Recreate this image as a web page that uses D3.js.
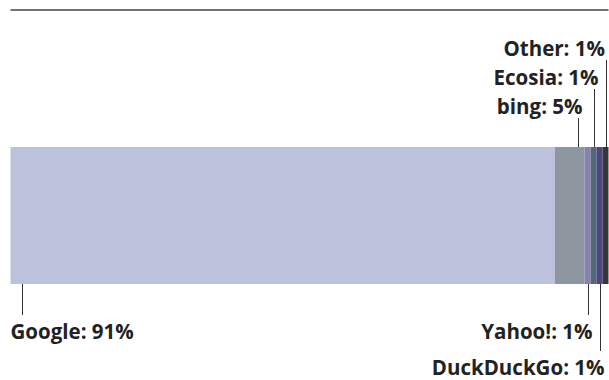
<!DOCTYPE html>
<html>
<head>
<meta charset="utf-8">
<script src="https://cdn.jsdelivr.net/npm/d3@7/dist/d3.min.js"></script>
<style>
  html, body { margin: 0; padding: 0; background: #fff; }
  svg { display: block; }
  text { font-family: "Open Sans", sans-serif; font-weight: 700; fill: #222; }
</style>
</head>
<body>
<svg id="chart" width="609" height="380"></svg>
<script>
// ---- data ----
const categories = ["Google", "bing", "Yahoo!", "Ecosia", "DuckDuckGo", "Other"];
const shares = [91, 5, 1, 1, 1, 1];
const labelSide = ["below", "above", "below", "above", "below", "above"];
const labelLevel = [0, 0, 0, 1, 1, 2];
const colors = ["#bcc1dc", "#8e979f", "#8980b0", "#516a77", "#4d4680", "#363638"];

// ---- layout ----
const W = 609, H = 380;
const left = 10.5, right = 608.5;
const barTop = 147, barBottom = 284;
const aboveBaselines = [114, 85, 56];
const belowBaselines = [339, 375];

const svg = d3.select("#chart");

const x = d3.scaleLinear().domain([0, d3.sum(shares)]).range([left, right]);

let acc = 0;
const segs = categories.map((c, i) => {
  const s = { name: c, value: shares[i], start: acc, end: acc + shares[i], i };
  acc += shares[i];
  return s;
});

// top rule
svg.append("line")
  .attr("x1", x(0)).attr("x2", x(d3.sum(shares)))
  .attr("y1", 10).attr("y2", 10)
  .attr("stroke", "#444").attr("stroke-width", 1.5);

// bars
svg.selectAll("rect.seg").data(segs).join("rect")
  .attr("class", "seg")
  .attr("x", d => x(d.start))
  .attr("width", d => x(d.end) - x(d.start))
  .attr("y", barTop)
  .attr("height", barBottom - barTop)
  .attr("fill", (d, i) => colors[i]);

// leader line x rule
function lineX(d) {
  const x0 = x(d.start), x1 = x(d.end), w = x1 - x0;
  if (w > 20) {
    return d.i === 0 ? x0 + 11.5 : x1 - 6.5;
  }
  return (x0 + x1) / 2 + 0.5;
}

segs.forEach(d => {
  const lx = Math.round(lineX(d)) + 0.5;
  const side = labelSide[d.i];
  const lvl = labelLevel[d.i];
  let base, y1, y2;
  if (side === "above") {
    base = aboveBaselines[lvl];
    y1 = base + 4; y2 = barTop;
  } else {
    const bl = d.i === 0 ? 0 : (lvl >= 1 ? 1 : 0);
    base = belowBaselines[bl];
    y1 = barBottom; y2 = base - 24;
  }
  svg.append("line")
    .attr("x1", lx).attr("x2", lx)
    .attr("y1", y1).attr("y2", y2)
    .attr("stroke", "#333").attr("stroke-width", 1);

  const t = svg.append("text")
    .attr("y", base)
    .style("font-size", "20.5px")
    .text(`${d.name}: ${d.value}%`);
  if (d.i === 0) {
    t.attr("x", x(d.start)).attr("text-anchor", "start");
  } else {
    t.attr("x", Math.min(lx + 4, W - 4)).attr("text-anchor", "end");
  }
});
</script>
</body>
</html>
